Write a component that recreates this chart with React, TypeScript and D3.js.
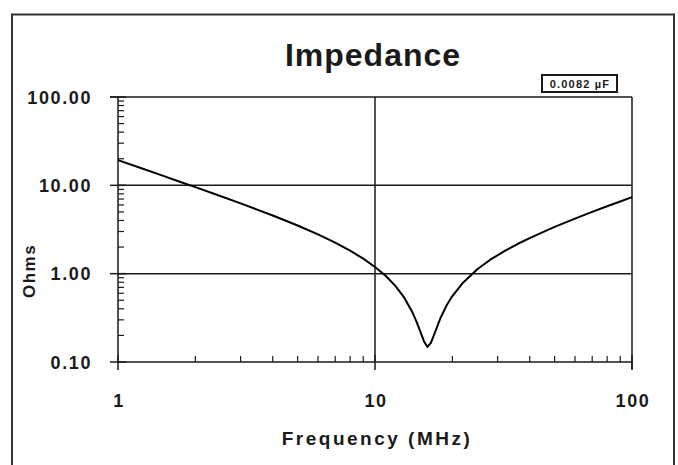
import React from "react";
import * as d3 from "d3";

const freqMHz = [1, 1.25, 1.5, 1.75, 2, 2.5, 3, 3.5, 4, 4.5, 5, 6, 7, 8, 9, 10, 11, 12, 13, 14, 14.5, 15, 15.5, 16, 16.5, 17, 18, 19, 20, 22, 25, 28, 32, 36, 40, 45, 50, 60, 70, 80, 90, 100];
const ohms = [19.3, 15.4, 12.8, 10.9, 9.55, 7.58, 6.24, 5.28, 4.55, 3.97, 3.51, 2.78, 2.25, 1.82, 1.48, 1.19, 0.948, 0.728, 0.535, 0.363, 0.287, 0.222, 0.172, 0.148, 0.165, 0.205, 0.317, 0.438, 0.558, 0.791, 1.12, 1.43, 1.81, 2.18, 2.53, 2.96, 3.38, 4.2, 5.0, 5.79, 6.57, 7.35];

const yMajor = [0.1, 1, 10, 100];
const yMajorLabels = ["0.10", "1.00", "10.00", "100.00"];
const xMajor = [1, 10, 100];
const xMajorLabels = ["1", "10", "100"];
const titleText = "Impedance";
const xTitle = "Frequency (MHz)";
const yTitle = "Ohms";
const legendText = "0.0082 µF";

const W = 678;
const H = 465;
const left = 118, right = 632, top = 97, bottom = 362;
const ink = "#1a1a1a";
const font = "'Liberation Sans', Arial, sans-serif";

export default function App() {
  const x = d3.scaleLog().domain([1, 100]).range([left, right]);
  const y = d3.scaleLog().domain([0.1, 100]).range([bottom, top]);
  const minors: number[] = [];
  [0.1, 1, 10].forEach((d) => {
    for (let k = 2; k <= 9; k++) minors.push(d * k);
  });
  const xMinors: number[] = [];
  [1, 10].forEach((d) => {
    for (let k = 2; k <= 9; k++) xMinors.push(d * k);
  });
  const line = d3
    .line<number>()
    .x((_, i) => x(freqMHz[i]))
    .y((d) => y(d));
  const pathD = line(ohms) || "";

  return (
    <svg width={W} height={H} style={{ position: "absolute", left: 0, top: 0, background: "#fff" }}>
      <rect x={0} y={0} width={W} height={H} fill="#fff" />
      {/* outer frame */}
      <rect x={12} y={14.5} width={662} height={480} fill="none" stroke="#333" strokeWidth={2} />

      {/* title */}
      <text x={373} y={66} textAnchor="middle" fontFamily={font} fontWeight="bold" fontSize={32} letterSpacing={1} fill={ink}>
        {titleText}
      </text>

      {/* legend box */}
      <rect x={542} y={75} width={75} height={17} fill="#fff" stroke={ink} strokeWidth={2} />
      <text x={580} y={88} textAnchor="middle" fontFamily={font} fontWeight="bold" fontSize={11} letterSpacing={1.2} fill={ink}>
        {legendText}
      </text>

      {/* gridlines */}
      {[1, 10].map((v) => (
        <line key={"hg" + v} x1={left} x2={right} y1={y(v)} y2={y(v)} stroke={ink} strokeWidth={1.5} />
      ))}
      <line x1={left - 8} x2={right} y1={y(100)} y2={y(100)} stroke={ink} strokeWidth={1.5} />
      <line x1={x(10)} x2={x(10)} y1={top} y2={bottom} stroke={ink} strokeWidth={1.5} />
      <line x1={right} x2={right} y1={top} y2={bottom + 7} stroke={ink} strokeWidth={1.5} />

      {/* y axis */}
      <line x1={left} x2={left} y1={top} y2={bottom} stroke={ink} strokeWidth={1.5} />
      {yMajor.map((v) => (
        <line key={"ymt" + v} x1={left - 8} x2={left + 8} y1={y(v)} y2={y(v)} stroke={ink} strokeWidth={1.5} />
      ))}
      {minors.map((v) => (
        <line key={"ymn" + v} x1={left} x2={left + 6} y1={y(v)} y2={y(v)} stroke={ink} strokeWidth={1.2} />
      ))}
      {yMajor.map((v, i) => (
        <text key={"yl" + v} x={92} y={y(v) + 6.5} textAnchor="end" fontFamily={font} fontWeight="bold" fontSize={18} letterSpacing={1.6} fill={ink}>
          {yMajorLabels[i]}
        </text>
      ))}

      {/* x axis */}
      <line x1={left} x2={right} y1={bottom} y2={bottom} stroke={ink} strokeWidth={1.5} />
      {xMajor.map((v) => (
        <line key={"xmt" + v} x1={x(v)} x2={x(v)} y1={bottom - 7} y2={bottom + 8} stroke={ink} strokeWidth={1.5} />
      ))}
      {xMinors.map((v) => (
        <line key={"xmn" + v} x1={x(v)} x2={x(v)} y1={bottom} y2={bottom - 6} stroke={ink} strokeWidth={1.2} />
      ))}
      {xMajor.map((v, i) => (
        <text key={"xl" + v} x={x(v) + 1} y={407} textAnchor="middle" fontFamily={font} fontWeight="bold" fontSize={18} letterSpacing={1.6} fill={ink}>
          {xMajorLabels[i]}
        </text>
      ))}

      {/* axis titles */}
      <text x={377} y={445} textAnchor="middle" fontFamily={font} fontWeight="bold" fontSize={19} letterSpacing={2.5} fill={ink}>
        {xTitle}
      </text>
      <text transform={`translate(35,${271}) rotate(-90)`} textAnchor="middle" fontFamily={font} fontWeight="bold" fontSize={17} letterSpacing={1.5} fill={ink}>
        {yTitle}
      </text>

      {/* impedance curve */}
      <path d={pathD} fill="none" stroke="#000" strokeWidth={2} strokeLinejoin="round" />
    </svg>
  );
}
